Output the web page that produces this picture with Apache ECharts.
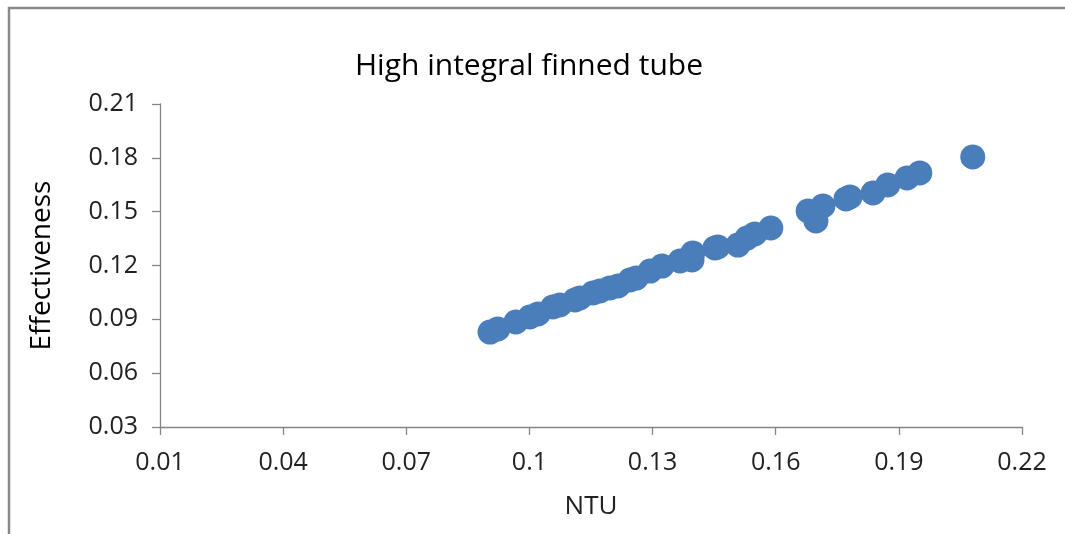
<!DOCTYPE html>
<html>
<head>
<meta charset="utf-8">
<script src="https://cdn.jsdelivr.net/npm/echarts@6/dist/echarts.min.js"></script>
<style>
  html, body { margin: 0; padding: 0; background: #fff; }
  #chart { width: 1065px; height: 534px; }
</style>
</head>
<body>
<div id="chart"></div>
<script>
// NTU vs effectiveness measurements
const ntu = [
  0.0904, 0.0923, 0.0967, 0.1001, 0.1021, 0.1057, 0.1074, 0.1111, 0.1123, 0.1155,
  0.1172, 0.1196, 0.1216, 0.1245, 0.1260, 0.1294, 0.1323, 0.1367, 0.1396, 0.1398,
  0.1452, 0.1459, 0.1508, 0.1530, 0.1549, 0.1588, 0.1679, 0.1698, 0.1715, 0.1771,
  0.1781, 0.1837, 0.1873, 0.1920, 0.1951, 0.2080
];
const effectiveness = [
  0.0829, 0.0846, 0.0885, 0.0913, 0.0930, 0.0969, 0.0980, 0.1008, 0.1019, 0.1047,
  0.1058, 0.1075, 0.1086, 0.1119, 0.1130, 0.1169, 0.1197, 0.1225, 0.1231, 0.1270,
  0.1298, 0.1303, 0.1314, 0.1353, 0.1376, 0.1409, 0.1504, 0.1448, 0.1532, 0.1571,
  0.1582, 0.1604, 0.1649, 0.1688, 0.1716, 0.1805
];
const xTicks = [0.01, 0.04, 0.07, 0.1, 0.13, 0.16, 0.19, 0.22];
const yTicks = [0.03, 0.06, 0.09, 0.12, 0.15, 0.18, 0.21];

const points = ntu.map((x, i) => [x, effectiveness[i]]);
const font = "'Open Sans', 'Noto Sans', sans-serif";
const fmt = v => String(parseFloat(v.toFixed(2)));

const chart = echarts.init(document.getElementById('chart'), null, { renderer: 'canvas' });
chart.setOption({
  animation: false,
  backgroundColor: '#ffffff',
  graphic: [{
    type: 'rect',
    shape: { x: 9, y: 8, width: 1200, height: 700 },
    style: { fill: 'none', stroke: '#8a8a8a', lineWidth: 2.5 },
    silent: true
  }],
  title: {
    text: 'High integral finned tube',
    left: 350,
    top: 46,
    textStyle: { fontFamily: font, fontSize: 30, fontWeight: 'normal', color: '#000' }
  },
  grid: { left: 160, top: 104, right: 43, bottom: 107 },
  xAxis: {
    type: 'value',
    min: xTicks[0],
    max: xTicks[xTicks.length - 1],
    interval: 0.03,
    name: 'NTU',
    nameLocation: 'middle',
    nameGap: 67,
    nameTextStyle: { fontFamily: font, fontSize: 26, color: '#222' },
    axisLine: { lineStyle: { color: '#868686', width: 1.3 } },
    axisTick: { show: true, length: 8, lineStyle: { color: '#868686', width: 1.3 } },
    axisLabel: { fontFamily: font, fontSize: 25, color: '#222', margin: 23, formatter: fmt },
    splitLine: { show: false }
  },
  yAxis: {
    type: 'value',
    min: yTicks[0],
    max: yTicks[yTicks.length - 1],
    interval: 0.03,
    name: 'Effectiveness',
    nameLocation: 'middle',
    nameGap: 104,
    nameTextStyle: { fontFamily: font, fontSize: 28, color: '#000' },
    axisLine: { show: true, lineStyle: { color: '#868686', width: 1.3 } },
    axisTick: { show: true, length: 8, lineStyle: { color: '#868686', width: 1.3 } },
    axisLabel: { fontFamily: font, fontSize: 25, color: '#222', margin: 22, formatter: fmt },
    splitLine: { show: false }
  },
  series: [{
    type: 'scatter',
    data: points,
    symbol: 'circle',
    symbolSize: 25,
    itemStyle: { color: '#4a7ebb', opacity: 1 }
  }]
});
</script>
</body>
</html>
